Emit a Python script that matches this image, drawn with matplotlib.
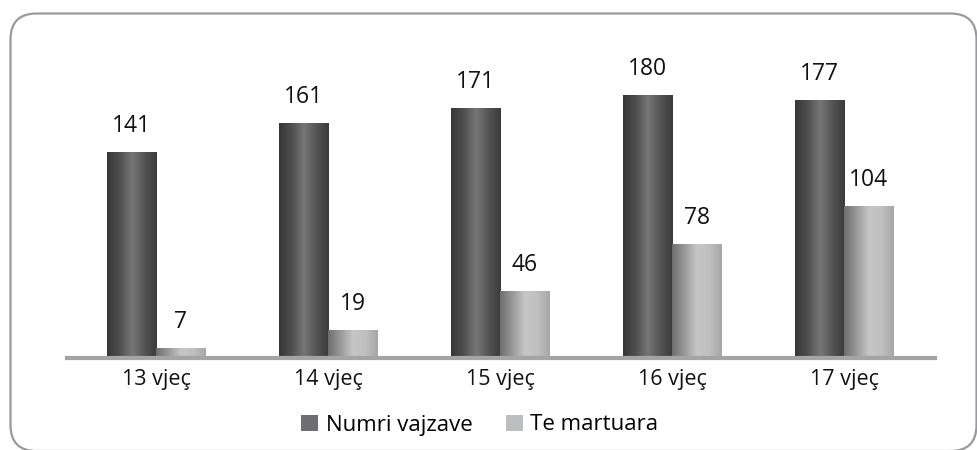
import matplotlib
matplotlib.use("Agg")
import matplotlib.pyplot as plt
import numpy as np
from matplotlib.patches import FancyBboxPatch, Patch
from matplotlib.colors import LinearSegmentedColormap

plt.rcParams['font.family'] = ['Open Sans', 'DejaVu Sans']

categories = ["13 vjeç", "14 vjeç", "15 vjeç", "16 vjeç", "17 vjeç"]
numri_vajzave = [141, 161, 171, 180, 177]
te_martuara = [7, 19, 46, 78, 104]
series_names = ["Numri vajzave", "Te martuara"]

fig = plt.figure(figsize=(9.78, 4.5), dpi=100)
fig.patch.set_facecolor("white")

# rounded frame drawn in pixel coordinates of a full-figure background axes
bg = fig.add_axes([0, 0, 1, 1], zorder=-1)
bg.set_xlim(0, 978)
bg.set_ylim(450, 0)
bg.axis("off")
frame = FancyBboxPatch((10.5, 13.5), 966, 437.5, boxstyle="round,pad=0,rounding_size=26",
                       fill=False, edgecolor="#9a9a9c", linewidth=1.6, clip_on=False)
bg.add_patch(frame)

ax = fig.add_axes([70/978, 92/450, 860/978, 292/450])
ax.set_xlim(-0.5, 4.5)
ax.set_ylim(0, 200)
for s in ax.spines.values():
    s.set_visible(False)
ax.set_yticks([])
x = np.arange(len(categories))
w = 0.285

dark_cmap = LinearSegmentedColormap.from_list("d", ["#363636", "#4e4e4e", "#767676", "#555555", "#3a3a3a"])
light_cmap = LinearSegmentedColormap.from_list("l", ["#6e6e6e", "#999999", "#c6c6c6", "#c0c0c0", "#a6a6a6"])

b1 = ax.bar(x - w/2, numri_vajzave, w, color="#5a5a5a", zorder=2)
b2 = ax.bar(x + w/2, te_martuara, w, color="#b0b0b0", zorder=2)

grad = np.linspace(0, 1, 256).reshape(1, -1)
for bars, cmap in ((b1, dark_cmap), (b2, light_cmap)):
    for r in bars:
        x0, y0 = r.get_x(), r.get_y()
        im = ax.imshow(grad, cmap=cmap, aspect="auto", extent=(x0, x0 + r.get_width(), y0, y0 + r.get_height()),
                       zorder=3, interpolation="bicubic")
        im.set_clip_path(r)

for bars, vals in ((b1, numri_vajzave), (b2, te_martuara)):
    for r, v in zip(bars, vals):
        ax.annotate(str(v), (r.get_x() + r.get_width()/2, r.get_height()), xytext=(0, 10),
                    textcoords="offset points", ha="center", va="bottom", fontsize=16.5, color="#111111")

ax.axhline(0, color="#a4a4a4", linewidth=3, zorder=4, xmin=-0.004, xmax=1.006, clip_on=False)
ax.set_xticks(x)
ax.set_xticklabels(categories, fontsize=15.5, color="#111111")
ax.tick_params(axis="x", length=0, pad=8)
ax.set_facecolor("none")

handles = [Patch(facecolor="#6e6e70", edgecolor="none"), Patch(facecolor="#bdbec0", edgecolor="none")]
fig.legend(handles, series_names, loc="center", bbox_to_anchor=(480/978, 1 - 425/450), ncol=2,
           frameon=False, fontsize=16, handlelength=0.75, handleheight=0.75, handletextpad=0.35,
           columnspacing=1.5)

fig.savefig("out.png", dpi=100, facecolor="white")
